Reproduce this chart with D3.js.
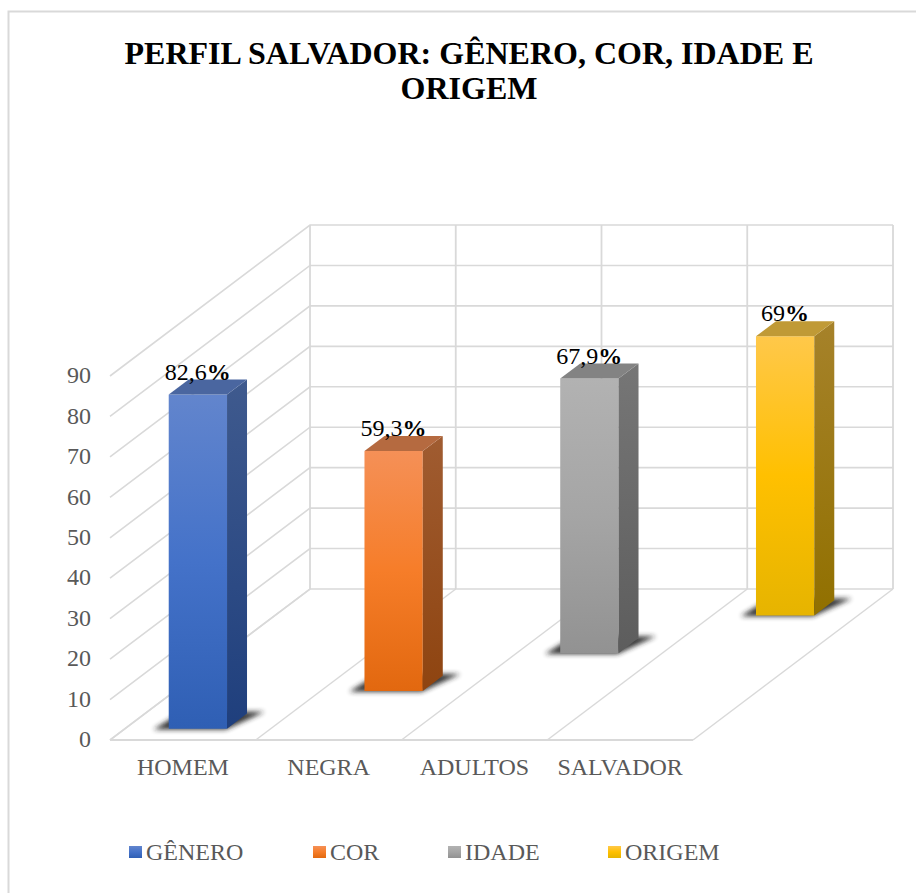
<!DOCTYPE html>
<html>
<head>
<meta charset="utf-8">
<script src="https://d3js.org/d3.v7.min.js"></script>
<style>
  body { margin: 0; background: white; }
  svg { display: block; }
  text { font-family: "Liberation Serif", serif; }
</style>
</head>
<body>
<script>
// chart data
var categories = ["HOMEM", "NEGRA", "ADULTOS", "SALVADOR"];
var series = ["GÊNERO", "COR", "IDADE", "ORIGEM"];
var values = [82.6, 59.3, 67.9, 69];
var labels = ["82,6", "59,3", "67,9", "69"];
var yTicks = [0, 10, 20, 30, 40, 50, 60, 70, 80, 90];

// colours per series: front (top, mid, bottom), side (top, bottom), top face
var frontColors = [["#6285cd", "#4472c9", "#2f5fb4"], ["#f59057", "#f67d29", "#e2680f"], ["#b2b2b2", "#a5a5a5", "#929292"], ["#ffc84a", "#ffc000", "#e6b400"]];
var sideColors = [["#3f5a8e", "#1f3f7d"], ["#a05c31", "#8e4410"], ["#767676", "#5d5d5d"], ["#a6822a", "#917000"]];
var topColors = ["#4a66a0", "#b56a40", "#838383", "#c09a36"];

// dimensions chart
var width = 916;
var height = 893;
var floorY = 740;
var frontLeft = 110;
var frontRight = 693;
var depthX = 200;
var depthY = 151;

var svg = d3.select("body")
  .append("svg")
  .attr("width", width)
  .attr("height", height);

// scales
var yScale = d3.scaleLinear()
  .domain([0, 90])
  .range([floorY, floorY - 364]);

var xScale = d3.scaleBand()
  .domain(categories)
  .range([frontLeft, frontRight])
  .paddingInner(0.6)
  .paddingOuter(0.3);

var depthScale = d3.scaleBand()
  .domain(series)
  .range([0, 1])
  .paddingInner(0.6)
  .paddingOuter(0.3);

// front scale x + depth (0..1) + value to screen position
function project(x, depth, value) {
  return [x + depth * depthX, yScale(value) - depth * depthY];
}

function poly(points) {
  return points.map(function(p) { return p.join(","); }).join(" ");
}

var defs = svg.append("defs");

defs.append("filter")
  .attr("id", "blur")
  .attr("x", "-30%").attr("y", "-60%")
  .attr("width", "160%").attr("height", "220%")
  .append("feGaussianBlur")
  .attr("stdDeviation", 2.4);

function addGradient(id, colors) {
  var g = defs.append("linearGradient")
    .attr("id", id)
    .attr("x1", 0).attr("y1", 0)
    .attr("x2", 0).attr("y2", 1);
  colors.forEach(function(c, i) {
    g.append("stop")
      .attr("offset", i / (colors.length - 1))
      .attr("stop-color", c);
  });
}

series.forEach(function(s, i) {
  addGradient("front" + i, frontColors[i]);
  addGradient("side" + i, sideColors[i]);
});

// outer border, only top and left show in the picture
svg.append("path")
  .attr("d", "M8.5," + height + "V11.5H" + width)
  .attr("fill", "none")
  .attr("stroke", "#d9d9d9")
  .attr("stroke-width", 2);

// title
svg.append("text")
  .attr("x", 469).attr("y", 64)
  .attr("text-anchor", "middle")
  .style("font-size", "32px").style("font-weight", "bold")
  .text("PERFIL SALVADOR: GÊNERO, COR, IDADE E");
svg.append("text")
  .attr("x", 469).attr("y", 99)
  .attr("text-anchor", "middle")
  .style("font-size", "32px").style("font-weight", "bold")
  .text("ORIGEM");

var grid = svg.append("g")
  .attr("fill", "none")
  .attr("stroke", "#d9d9d9");

// gridlines on the left wall and back wall
yTicks.forEach(function(t) {
  var a = project(frontLeft, 0, t);
  var b = project(frontLeft, 1, t);
  var c = project(frontRight, 1, t);
  grid.append("polyline")
    .attr("points", poly([a, b, c]))
    .attr("stroke-width", 1.6);
});

// vertical lines on back wall, lines across the floor
var floorEdges = [frontLeft].concat(categories.map(function(c) { return xScale(c) - xScale.step() * 0.3 + xScale.step(); }));
floorEdges.forEach(function(x) {
  var bottom = project(x, 1, 0);
  var top = project(x, 1, 90);
  var front = project(x, 0, 0);
  grid.append("line")
    .attr("x1", bottom[0]).attr("y1", bottom[1])
    .attr("x2", top[0]).attr("y2", top[1])
    .attr("stroke-width", 1.8);
  grid.append("line")
    .attr("x1", front[0]).attr("y1", front[1])
    .attr("x2", bottom[0]).attr("y2", bottom[1])
    .attr("stroke-width", 1.5);
});

// floor front edge
grid.append("line")
  .attr("x1", frontLeft).attr("y1", floorY)
  .attr("x2", frontRight).attr("y2", floorY)
  .attr("stroke-width", 1.8);

// bars
series.forEach(function(s, i) {
  var x0 = xScale(categories[i]);
  var x1 = x0 + xScale.bandwidth();
  var d0 = depthScale(s);
  var d1 = d0 + depthScale.bandwidth();
  var v = values[i];
  var bar = svg.append("g");

  // shadow on the floor
  bar.append("polygon")
    .attr("points", poly([
      project(x0 - 14, d0 - 0.006, 0),
      project(x1, d0 - 0.006, 0),
      project(x1 + 15, d1 + 0.012, 0),
      project(x0 - 9, d1 + 0.012, 0)
    ]))
    .attr("fill", "#222")
    .attr("opacity", 0.9)
    .attr("filter", "url(#blur)");

  // front face
  var fTop = project(x0, d0, v);
  bar.append("polygon")
    .attr("points", poly([project(x0, d0, v), project(x1, d0, v), project(x1, d0, 0), project(x0, d0, 0)]))
    .attr("fill", "url(#front" + i + ")");

  // side face
  bar.append("polygon")
    .attr("points", poly([project(x1, d0, v), project(x1, d1, v), project(x1, d1, 0), project(x1, d0, 0)]))
    .attr("fill", "url(#side" + i + ")");

  // top face
  bar.append("polygon")
    .attr("points", poly([project(x0, d0, v), project(x1, d0, v), project(x1, d1, v), project(x0, d1, v)]))
    .attr("fill", topColors[i]);

  // value label
  var lab = svg.append("text")
    .attr("x", fTop[0] + 29)
    .attr("y", fTop[1] - 15)
    .attr("text-anchor", "middle")
    .attr("fill", "black")
    .style("font-size", "24px");
  lab.append("tspan").text(labels[i]);
  lab.append("tspan").style("font-weight", "bold").text("%");
});

// y axis
var yAxis = d3.axisLeft(yScale)
  .tickValues(yTicks)
  .tickSize(0)
  .tickPadding(19);
var yG = svg.append("g")
  .attr("transform", "translate(" + frontLeft + ",-1)")
  .call(yAxis);
yG.select(".domain").remove();
yG.selectAll("text")
  .attr("fill", "#595959")
  .style("font-family", "Liberation Serif")
  .style("font-size", "24px");

// x axis
var xAxis = d3.axisBottom(xScale).tickSize(0).tickPadding(18);
var xG = svg.append("g")
  .attr("transform", "translate(0," + floorY + ")")
  .call(xAxis);
xG.select(".domain").remove();
xG.selectAll("text")
  .attr("fill", "#595959")
  .style("font-family", "Liberation Serif")
  .style("font-size", "24px");

// legend
var legendX = d3.scaleOrdinal().domain(series).range([129, 313, 448, 608]);
var legend = svg.selectAll(".legend")
  .data(series)
  .enter()
  .append("g")
  .attr("class", "legend")
  .attr("transform", function(d) { return "translate(" + legendX(d) + ",846)"; });

legend.append("rect")
  .attr("width", 13)
  .attr("height", 12)
  .attr("fill", function(d, i) { return "url(#front" + i + ")"; });

legend.append("text")
  .attr("x", 17)
  .attr("y", 14)
  .attr("fill", "#595959")
  .style("font-size", "24px")
  .text(function(d) { return d; });
</script>
</body>
</html>
